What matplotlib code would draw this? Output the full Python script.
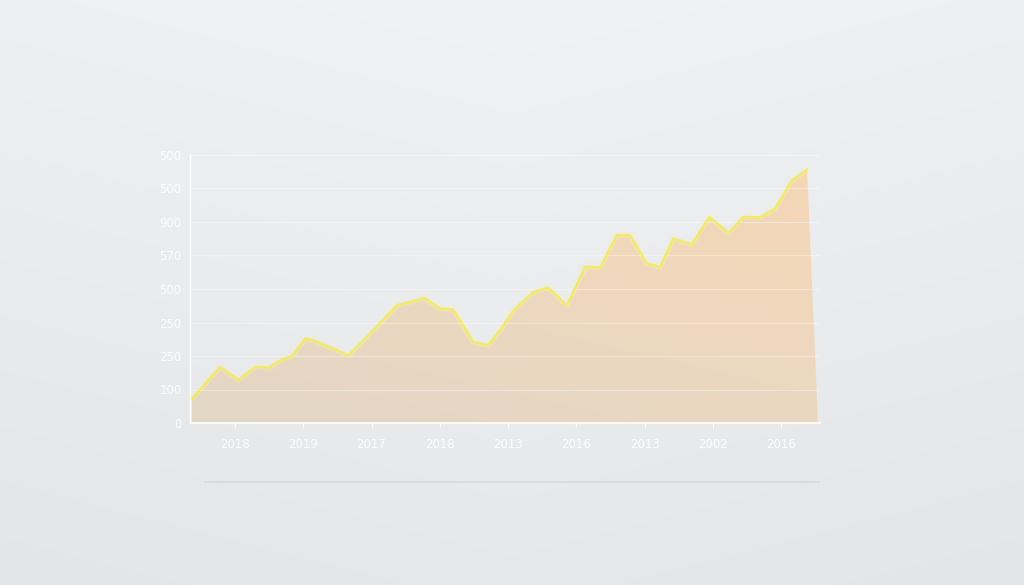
import numpy as np
import matplotlib
matplotlib.use('Agg')
import matplotlib.pyplot as plt
from matplotlib.colors import LinearSegmentedColormap

# tick labels as they appear on the chart
x_labels = ['2018', '2019', '2017', '2018', '2013', '2016', '2013', '2002', '2016']
y_labels = ['0', '100', '250', '250', '500', '570', '900', '500', '500']

# line points (x in tick units, y in chart units)
x_vals = [-0.63, -0.22, 0.05, 0.29, 0.49, 0.66, 0.83, 1.03, 1.15, 1.66, 1.93,
          2.37, 2.56, 2.78, 3.00, 3.20, 3.49, 3.71, 3.88, 4.08, 4.37, 4.59,
          4.86, 5.13, 5.35, 5.59, 5.79, 6.03, 6.23, 6.42, 6.69, 6.95, 7.23,
          7.45, 7.69, 7.91, 8.16, 8.38]
y_vals = [74, 168, 130, 168, 166, 188, 200, 253, 248, 203, 258,
          352, 362, 374, 342, 339, 243, 233, 278, 337, 392, 405,
          352, 467, 465, 561, 561, 477, 467, 551, 534, 616, 568,
          616, 614, 641, 725, 757]
fill_end_x = 8.54

W, H = 1024, 585
fig = plt.figure(figsize=(W / 100, H / 100), dpi=100)

# soft studio background
bg = fig.add_axes([0, 0, 1, 1])
yy, xx = np.mgrid[0:1:300j, 0:1:500j]
shade = 0.45 * yy + 0.2 * np.abs(xx - 0.5)
bg_cmap = LinearSegmentedColormap.from_list('bg', ['#f1f2f4', '#eaebed', '#e3e4e6'])
bg.imshow(shade, cmap=bg_cmap, aspect='auto', extent=[0, 1, 0, 1], origin='upper', vmin=0, vmax=0.6)
bg.plot([0.2, 0.8], [1 - 482 / H, 1 - 482 / H], color='#d3d5d8', lw=1.2, alpha=0.8)
bg.set_xlim(0, 1)
bg.set_ylim(0, 1)
bg.axis('off')

ax = fig.add_axes([190 / W, 1 - 423 / H, 630 / W, 268 / H])
ax.patch.set_alpha(0)
x0, x1 = -0.66, 8.57
ax.set_xlim(x0, x1)
ax.set_ylim(0, 800)

# gradient fill clipped to the area under the line
poly_x = [x_vals[0]] + x_vals + [fill_end_x, x_vals[0]]
poly_y = [0] + y_vals + [0, 0]
poly = ax.fill(poly_x, poly_y, facecolor='none', edgecolor='none')[0]
gy, gx = np.mgrid[0:1:200j, 0:1:400j]
grad = 0.35 * gx + 0.65 * (1 - gy)
fill_cmap = LinearSegmentedColormap.from_list('fill', ['#e2d6c6', '#eed8bf', '#f4d6b4'])
im = ax.imshow(grad, cmap=fill_cmap, aspect='auto', extent=[x0, x1, 0, 800],
               origin='upper', zorder=1)
im.set_clip_path(poly)

# grid lines
for v in range(100, 801, 100):
    ax.axhline(v, color='white', lw=0.9, alpha=0.35, zorder=2)

# glowing line
ax.plot(x_vals, y_vals, color='#fbf59a', lw=4.5, alpha=0.3, zorder=3,
        solid_joinstyle='round', solid_capstyle='round')
ax.plot(x_vals, y_vals, color='#f2ea6a', lw=1.5, zorder=4,
        solid_joinstyle='round', solid_capstyle='round')

ax.set_xticks(range(len(x_labels)))
ax.set_xticklabels(x_labels)
ax.set_yticks(range(0, 801, 100))
ax.set_yticklabels(y_labels)
ax.tick_params(axis='x', colors='white', labelsize=8.5, length=3, width=0.8, pad=8)
ax.tick_params(axis='y', colors='white', labelsize=8.5, length=0, pad=6)
for lab in ax.get_xticklabels() + ax.get_yticklabels():
    lab.set_color('#fdfdfd')

for side in ['top', 'right']:
    ax.spines[side].set_visible(False)
ax.spines['left'].set_color('white')
ax.spines['bottom'].set_color('white')
ax.spines['left'].set_linewidth(1)
ax.spines['bottom'].set_linewidth(1.2)

fig.savefig('out.png', dpi=100)
